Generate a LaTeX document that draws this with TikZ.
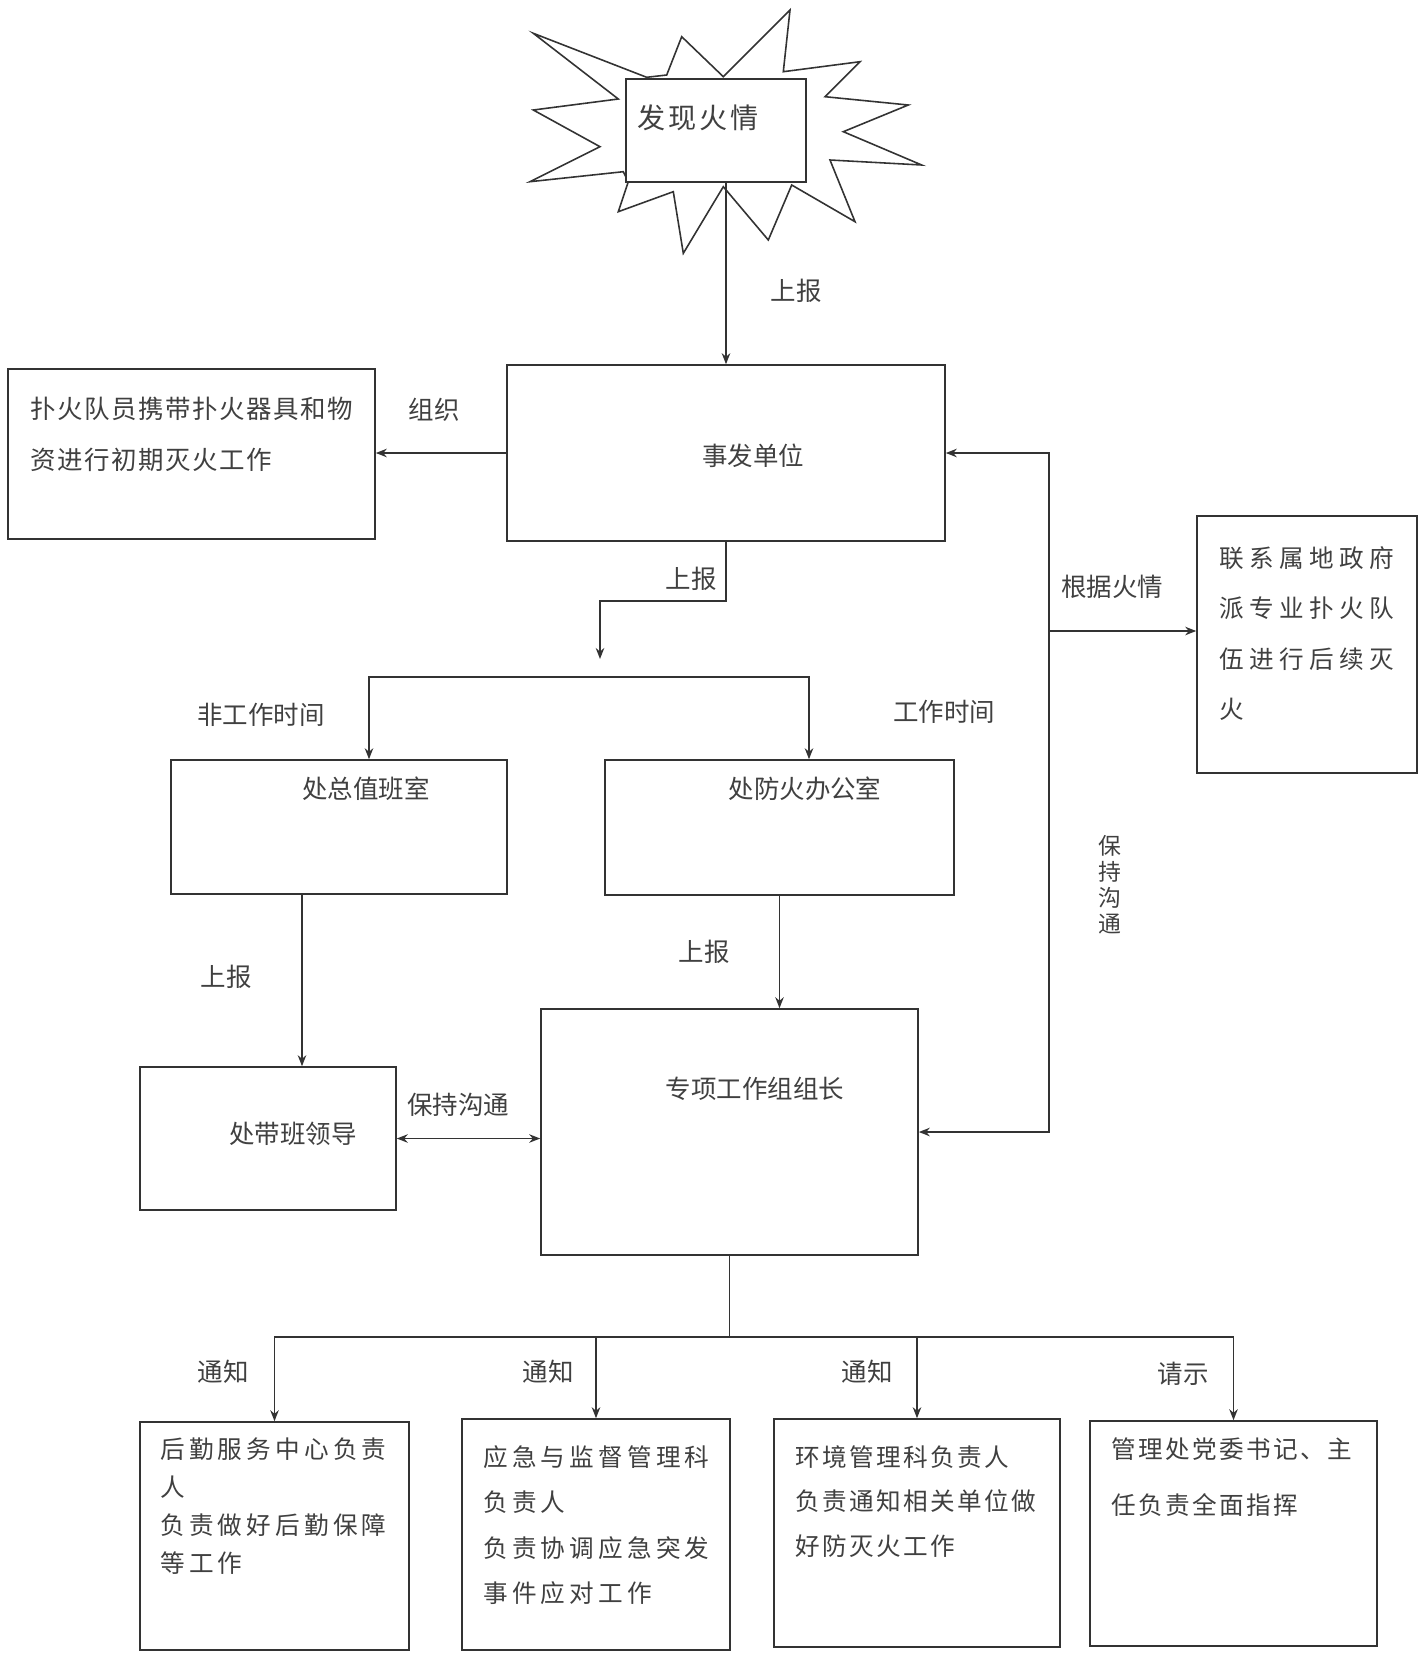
\documentclass[tikz,border=0pt]{standalone}
\usepackage{fontspec}
\setmainfont{Noto Sans CJK SC}
\newfontfamily\tightcjk[LetterSpace=6]{Noto Sans CJK SC}
\newfontfamily\spacedcjk[LetterSpace=10]{Noto Sans CJK SC}
\newfontfamily\loosecjk[LetterSpace=17]{Noto Sans CJK SC}
\newfontfamily\widecjk[LetterSpace=22]{Noto Sans CJK SC}
\usetikzlibrary{arrows.meta}

\begin{document}
\begin{tikzpicture}[x=0.2mm,y=-0.2mm,>={Stealth[length=2.2mm,width=1.7mm]},
  box/.style={draw=black!80,line width=0.9pt,fill=white,inner sep=0pt},
  txt/.style={text=black!75,inner sep=0pt,font=\fontsize{14.5}{17}\selectfont},
  link/.style={draw=black!80,line width=0.9pt},
  arr/.style={link,->}]
\useasboundingbox (0,0) rectangle (1423,1653);
\draw[link,fill=white] (533.3,33.3) -- (646.7,77.3) -- (666.7,75) -- (681.7,36.7) -- (723.3,76.7)
  -- (790,10) -- (783.3,71.7) -- (860,61.7) -- (825,96.7) -- (908.3,105) -- (843.3,131.7)
  -- (921.7,165) -- (830,160) -- (855,221.7) -- (791.7,185) -- (768.3,240) -- (723.3,186.7)
  -- (683.3,253.3) -- (673.3,191.7) -- (618.3,211.7) -- (628.3,181.7) -- (623.3,171.7)
  -- (530,181.7) -- (600,146.7) -- (533.3,110) -- (618.3,99) -- cycle;
\node[box,minimum width=36mm,minimum height=20.6mm] (fire) at (716,130.5) {};
\node[box,minimum width=87.6mm,minimum height=35.2mm] (unit) at (726,453) {};
\node[box,minimum width=73.4mm,minimum height=34mm] (crew) at (191.5,454) {};
\node[box,minimum width=44mm,minimum height=51.4mm] (gov) at (1307,644.5) {};
\node[box,minimum width=67.2mm,minimum height=26.8mm] (duty) at (339,827) {};
\node[box,minimum width=69.8mm,minimum height=27mm] (office) at (779.5,827.5) {};
\node[box,minimum width=51.2mm,minimum height=28.6mm] (leader) at (268,1138.5) {};
\node[box,minimum width=75.4mm,minimum height=49.2mm] (group) at (729.5,1132) {};
\node[box,minimum width=53.8mm,minimum height=45.6mm] (logi) at (274.5,1536) {};
\node[box,minimum width=53.6mm,minimum height=46.2mm] (emerg) at (596,1534.5) {};
\node[box,minimum width=57.2mm,minimum height=45.6mm] (envir) at (917,1533) {};
\node[box,minimum width=57.4mm,minimum height=45mm] (party) at (1233.5,1533.5) {};

\node[txt,font=\fontsize{16}{19}\selectfont\spacedcjk,anchor=west] (firetxt) at (637,118) {发现火情};
\node[txt] (unittxt) at (753,456) {事发单位};
\node[txt,font=\fontsize{14.5}{28.9}\selectfont\tightcjk,align=left,anchor=north west] (crewtxt) at (30,397) {扑火队员携带扑火器具和物\\资进行初期灭火工作};
\node[txt,font=\fontsize{14}{28.7}\selectfont\widecjk,align=left,anchor=north west] (govtxt) at (1219,546) {联系属地政府\\派专业扑火队\\伍进行后续灭\\火};
\node[txt] (dutytxt) at (366,789) {处总值班室};
\node[txt] (officetxt) at (805,789) {处防火办公室};
\node[txt] (leadertxt) at (293,1134) {处带班领导};
\node[txt] (grouptxt) at (755,1089) {专项工作组组长};
\node[txt,font=\fontsize{14}{21.7}\selectfont\loosecjk,align=left,anchor=north west] (logitxt) at (160,1437) {后勤服务中心负责\\人\\负责做好后勤保障\\等工作};
\node[txt,font=\fontsize{14}{25.9}\selectfont\loosecjk,align=left,anchor=north west] (emergtxt) at (483,1445) {应急与监督管理科\\负责人\\负责协调应急突发\\事件应对工作};
\node[txt,font=\fontsize{14}{25.5}\selectfont\spacedcjk,align=left,anchor=north west] (envirtxt) at (795,1445) {环境管理科负责人\\负责通知相关单位做\\好防灭火工作};
\node[txt,font=\fontsize{14}{32.3}\selectfont\spacedcjk,align=left,anchor=north west] (partytxt) at (1111,1437) {管理处党委书记、主\\任负责全面指挥};

\draw[arr] (fire.south -| unit.north) -- (unit.north);
\draw[arr] (unit.west) -- (crew.east |- unit.west);
\coordinate (turn) at (600,601);
\coordinate (drop) at (600,659);
\draw[arr] (unit.south) |- (turn) -- (drop);
\coordinate (splitL) at (369,677);
\coordinate (splitR) at (809,677);
\draw[link,<->] (duty.north -| splitL) -- (splitL) -- (splitR) -- (office.north -| splitR);
\draw[arr] ([xshift=-7.4mm]duty.south) coordinate (d1) -- (d1 |- leader.north);
\draw[arr] (office.south) -- (office.south |- group.north);
\draw[link,<->] (leader.east) -- (leader.east -| group.west);
\coordinate (side) at (1049,631);
\draw[link,<->] (group.east) -| (side) |- (unit.east);
\draw[arr] (side) -- (side -| gov.west);
\draw[link] (group.south) -- ++(0,81) coordinate (bus);
\foreach \b in {logi,emerg,envir,party}
  \draw[arr] (bus) -| (\b.north);

\node[txt] (rep1) at (796,291) {上报};
\node[txt] (org) at (434,410) {组织};
\node[txt] (rep2) at (691,579) {上报};
\node[txt] (offhours) at (261,715) {非工作时间};
\node[txt] (onhours) at (944,712) {工作时间};
\node[txt] (byfire) at (1112,587) {根据火情};
\node[txt,font=\fontsize{13}{14.8}\selectfont,align=center] (keepv) at (1110,885) {保\\持\\沟\\通};
\node[txt] (rep3) at (226,977) {上报};
\node[txt] (rep4) at (704,952) {上报};
\node[txt] (keeph) at (458,1105) {保持沟通};
\node[txt] (note1) at (223,1372) {通知};
\node[txt] (note2) at (548,1372) {通知};
\node[txt] (note3) at (867,1372) {通知};
\node[txt] (ask) at (1183,1374) {请示};
\end{tikzpicture}
\end{document}
